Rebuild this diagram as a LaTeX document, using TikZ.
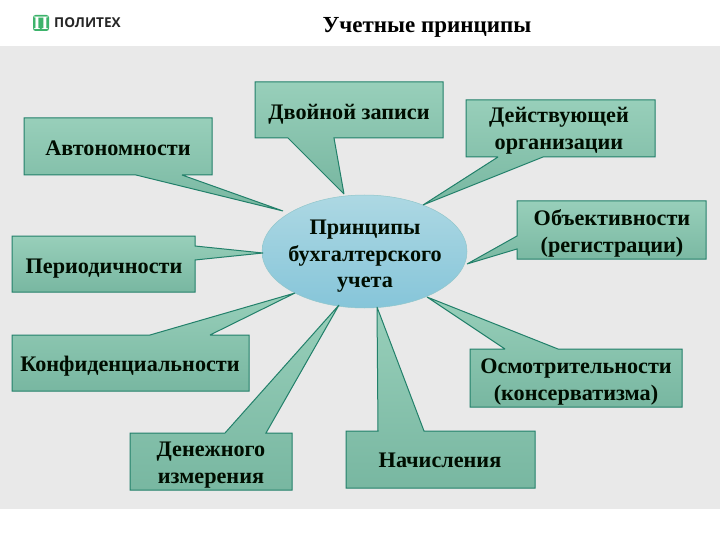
\documentclass[tikz,border=0pt]{standalone}
\usetikzlibrary{shapes.geometric}
\usepackage{fontspec}
\setmainfont{Liberation Serif}
\newfontfamily\logofont{Open Sans}
\definecolor{bgpanel}{HTML}{E9E9E9}
\definecolor{boxtop}{HTML}{98CFBA}
\definecolor{boxbot}{HTML}{78B7A1}
\definecolor{boxline}{HTML}{22806A}
\definecolor{elltop}{HTML}{ADD8E3}
\definecolor{ellbot}{HTML}{86C5D9}
\definecolor{logogreen}{HTML}{3DB36B}
\tikzset{
  callout/.style={draw=boxline,line width=1pt,line join=miter,miter limit=2,top color=boxtop,bottom color=boxbot},
  boxtext/.style={font=\fontsize{22.2}{26.5}\selectfont\bfseries,align=center,inner sep=0pt,text=black!95!green},
}
\begin{document}
\begin{tikzpicture}[x=1pt,y=-1pt]
\useasboundingbox (0,0) rectangle (720,540);
\fill[white] (0,0) rectangle (720,540);
\fill[bgpanel] (0,46) rectangle (720,509);
% logo
\node[fill=logogreen,rounded corners=2.5pt,minimum width=16pt,minimum height=16pt,inner sep=0pt,text=white,font=\fontsize{19}{19}\selectfont\bfseries] (logo) at (41,23) {П};
\node[anchor=west,inner sep=0pt,font=\logofont\fontsize{13.6}{14}\selectfont\bfseries,text=black!85] (logotext) at (54,23) {ПОЛИТЕХ};
% title
\node[font=\fontsize{23}{26}\selectfont\bfseries,inner sep=0pt] (title) at (427,27) {Учетные принципы};
% centre
\node[ellipse,minimum width=205pt,minimum height=113pt,inner sep=0pt,draw=elltop!80!boxline,line width=0.5pt,top color=elltop,bottom color=ellbot] (centre) at (364.5,251.5) {};
% tips
\coordinate (tipA) at (283,211);
\coordinate (tipB) at (344,194);
\coordinate (tipC) at (423,205);
\coordinate (tipD) at (467,264);
\coordinate (tipE) at (427,297);
\coordinate (tipF) at (377,307);
\coordinate (tipG) at (339,305);
\coordinate (tipH) at (295,293);
\coordinate (tipI) at (263,253);
% callouts
\draw[callout] (24,118) -- (212,118) -- (212,175) -- (182,175) -- (tipA) -- (136,175) -- (24,175) -- cycle;
\draw[callout] (255,82) -- (443,82) -- (443,138) -- (334,138) -- (tipB) -- (288,138) -- (255,138) -- cycle;
\draw[callout] (466,100) -- (655,100) -- (655,157) -- (543,157) -- (tipC) -- (498,157) -- (466,157) -- cycle;
\draw[callout] (517,201) -- (706,201) -- (706,259) -- (517,259) -- (517,249) -- (tipD) -- (517,236) -- cycle;
\draw[callout] (470,349) -- (505,349) -- (tipE) -- (558,349) -- (682,349) -- (682,407) -- (470,407) -- cycle;
\draw[callout] (346,431) -- (378,431) -- (tipF) -- (424,431) -- (535,431) -- (535,488) -- (346,488) -- cycle;
\draw[callout] (130,433) -- (225,433) -- (tipG) -- (266,433) -- (292,433) -- (292,490) -- (130,490) -- cycle;
\draw[callout] (12,335) -- (150,335) -- (tipH) -- (210,335) -- (249,335) -- (249,391) -- (12,391) -- cycle;
\draw[callout] (12,236) -- (195,236) -- (195,246) -- (tipI) -- (195,260) -- (195,292) -- (12,292) -- cycle;
% labels
\node[boxtext] (avt) at (118,148) {Автономности};
\node[boxtext] (dvo) at (349,114) {Двойной записи};
\node[boxtext] (dei) at (559,130.5) {Действующей\\организации};
\node[boxtext] (obj) at (612,233.5) {Объективности\\(регистрации)};
\node[boxtext] (osm) at (576,382) {Осмотрительности\\(консерватизма)};
\node[boxtext] (nac) at (440,460) {Начисления};
\node[boxtext] (den) at (211,465) {Денежного\\измерения};
\node[boxtext] (kon) at (130,366) {Конфиденциальности};
\node[boxtext] (per) at (104,269) {Периодичности};
\node[boxtext] (pri) at (365,256.5) {Принципы\\бухгалтерского\\учета};
\end{tikzpicture}
\end{document}
